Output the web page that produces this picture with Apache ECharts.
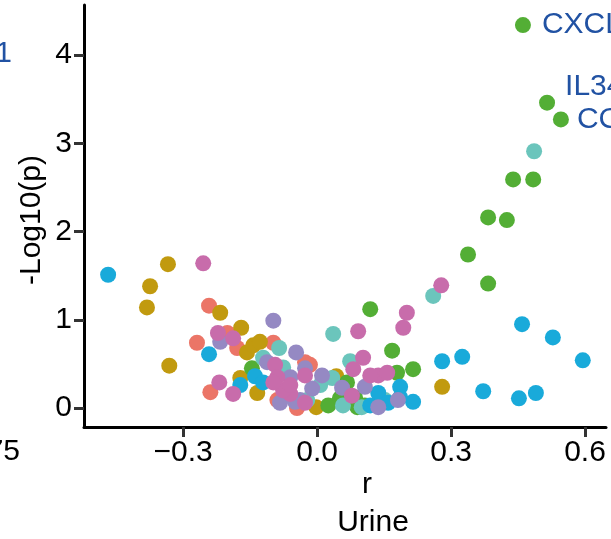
<!DOCTYPE html>
<html>
<head>
<meta charset="utf-8">
<title>Urine correlation</title>
<script src="https://cdn.jsdelivr.net/npm/echarts@6/dist/echarts.min.js"></script>
<style>
  html, body { margin: 0; padding: 0; background: #fff; }
  #chart { width: 611px; height: 539px; }
</style>
</head>
<body>
<div id="chart"></div>
<script>
// points are [r, -log10(p)], one list per cluster colour
const salmonPts = [
  [-0.242, 1.16], [-0.269, 0.74], [-0.239, 0.18], [-0.201, 0.85], [-0.179, 0.68],
  [-0.098, 0.74], [-0.089, 0.09], [-0.027, 0.52], [-0.016, 0.49], [-0.045, 0.0]
];
const goldPts = [
  [-0.334, 1.63], [-0.374, 1.38], [-0.381, 1.14], [-0.331, 0.48], [-0.217, 1.08],
  [-0.17, 0.91], [-0.157, 0.63], [-0.143, 0.71], [-0.128, 0.75], [-0.172, 0.34],
  [-0.134, 0.17], [0.28, 0.24], [0.043, 0.36], [-0.002, 0.01]
];
const greenPts = [
  [0.439, 2.59], [0.484, 2.59], [0.383, 2.16], [0.425, 2.13], [0.338, 1.74],
  [0.383, 1.41], [0.119, 1.12], [0.168, 0.65], [0.215, 0.44], [0.179, 0.40],
  [0.067, 0.29], [0.025, 0.03], [0.09, 0.01], [0.107, 0.03], [-0.146, 0.45],
  [0.085, 0.12], [0.051, 0.11]
];
const tealPts = [
  [0.486, 2.91], [0.26, 1.27], [0.036, 0.84], [0.074, 0.53], [-0.085, 0.68],
  [-0.121, 0.57], [-0.076, 0.46], [0.034, 0.34], [0.058, 0.03], [0.1, 0.01],
  [-0.022, 0.09], [0.007, 0.26], [0.152, 0.09]
];
const bluePts = [
  [-0.468, 1.51], [0.459, 0.95], [0.528, 0.80], [0.595, 0.54], [0.28, 0.53],
  [0.325, 0.58], [0.372, 0.19], [0.452, 0.11], [0.49, 0.17], [-0.242, 0.61],
  [-0.172, 0.26], [-0.139, 0.36], [-0.121, 0.29], [0.186, 0.24], [0.215, 0.07],
  [0.137, 0.17], [0.159, 0.06], [0.186, 0.12], [0.119, 0.03]
];
const purplePts = [
  [-0.098, 0.99], [-0.047, 0.63], [-0.217, 0.75], [-0.112, 0.52], [0.011, 0.37],
  [-0.011, 0.22], [0.056, 0.23], [0.107, 0.24], [0.181, 0.09], [0.137, 0.01],
  [-0.083, 0.06], [-0.06, 0.35], [-0.038, 0.09], [-0.027, 0.45], [-0.049, 0.07]
];
const pinkPts = [
  [-0.255, 1.64], [0.278, 1.39], [0.201, 1.08], [0.193, 0.91], [0.092, 0.87],
  [0.103, 0.57], [0.081, 0.44], [0.137, 0.37], [0.157, 0.40], [-0.027, 0.37],
  [0.078, 0.14], [-0.027, 0.06], [-0.222, 0.85], [-0.188, 0.79], [-0.219, 0.29],
  [-0.188, 0.16], [-0.094, 0.49], [-0.089, 0.35], [-0.06, 0.16], [-0.076, 0.2],
  [0.119, 0.37], [-0.098, 0.29], [-0.06, 0.26]
];

// labelled genes (green cluster)
const labelGenes = ["CXCL10", "IL34", "CCL2"];
const labelR = [0.461, 0.515, 0.546];
const labelP = [4.34, 3.46, 3.27];

const xTicks = [-0.3, 0, 0.3, 0.6];
const yTicks = [0, 1, 2, 3, 4];

const FONT = "Liberation Sans, Arial, sans-serif";
const labelBlue = "#2152A3";

const labelOffsets = [[0, 0], [0, -16], [0, 0]];
const labelDist = [11, 10, 8];

const labelledData = labelGenes.map((name, i) => ({
  name: name,
  value: [labelR[i], labelP[i]],
  label: {
    show: true,
    formatter: "{b}",
    position: "right",
    distance: labelDist[i],
    offset: labelOffsets[i],
    color: labelBlue,
    fontSize: 30,
    fontFamily: FONT,
  },
}));

function makeSeries(name, color, pts) {
  return {
    name: name,
    type: "scatter",
    symbolSize: 16,
    itemStyle: { color: color, opacity: 1 },
    emphasis: { disabled: true },
    data: pts,
  };
}

const chart = echarts.init(document.getElementById("chart"));

const option = {
  animation: false,
  grid: { left: 84, right: 5, top: 5, bottom: 112, containLabel: false },
  xAxis: {
    type: "value",
    min: -0.522,
    max: 0.647,
    splitLine: { show: false },
    axisLine: { show: true, onZero: false, lineStyle: { color: "#000", width: 3 } },
    axisTick: {
      show: true,
      customValues: xTicks,
      length: 10,
      lineStyle: { color: "#333", width: 3 },
    },
    axisLabel: {
      customValues: xTicks,
      margin: 11,
      fontSize: 30,
      fontFamily: FONT,
      color: "#000",
      formatter: (v) => v.toFixed(1).replace("-", "\u2212"),
    },
  },
  yAxis: {
    type: "value",
    min: -0.215,
    max: 4.567,
    splitLine: { show: false },
    axisLine: { show: true, onZero: false, lineStyle: { color: "#000", width: 3 } },
    axisTick: {
      show: true,
      customValues: yTicks,
      length: 10,
      lineStyle: { color: "#333", width: 3 },
    },
    axisLabel: {
      customValues: yTicks,
      margin: 12,
      fontSize: 30,
      fontFamily: FONT,
      color: "#000",
    },
  },
  graphic: [
    {
      type: "text",
      x: 32,
      y: 220,
      rotation: Math.PI / 2,
      style: {
        text: "-Log10(p)",
        fontSize: 30,
        fontFamily: FONT,
        fill: "#000",
        align: "center",
        verticalAlign: "middle",
      },
    },
    {
      type: "text",
      x: 367,
      y: 485,
      style: { text: "r", fontSize: 30, fontFamily: FONT, fill: "#000", align: "center", verticalAlign: "middle" },
    },
    {
      type: "text",
      x: 373,
      y: 523,
      style: { text: "Urine", fontSize: 30, fontFamily: FONT, fill: "#000", align: "center", verticalAlign: "middle" },
    },
    // bits of the neighbouring panel that the crop cuts through
    {
      type: "text",
      x: 12,
      y: 54,
      style: { text: "1", fontSize: 30, fontFamily: FONT, fill: labelBlue, align: "right", verticalAlign: "middle" },
    },
    {
      type: "text",
      x: 20,
      y: 452,
      style: { text: "0.75", fontSize: 30, fontFamily: FONT, fill: "#000", align: "right", verticalAlign: "middle" },
    },
  ],
  series: [
    makeSeries("salmon", "#EB7567", salmonPts),
    makeSeries("gold", "#C19A0F", goldPts),
    makeSeries("green", "#53AE35", greenPts.concat(labelledData)),
    makeSeries("teal", "#6BC5BC", tealPts),
    makeSeries("blue", "#19AADA", bluePts),
    makeSeries("purple", "#9589C3", purplePts),
    makeSeries("pink", "#C86CAB", pinkPts),
  ],
};

chart.setOption(option);
</script>
</body>
</html>
